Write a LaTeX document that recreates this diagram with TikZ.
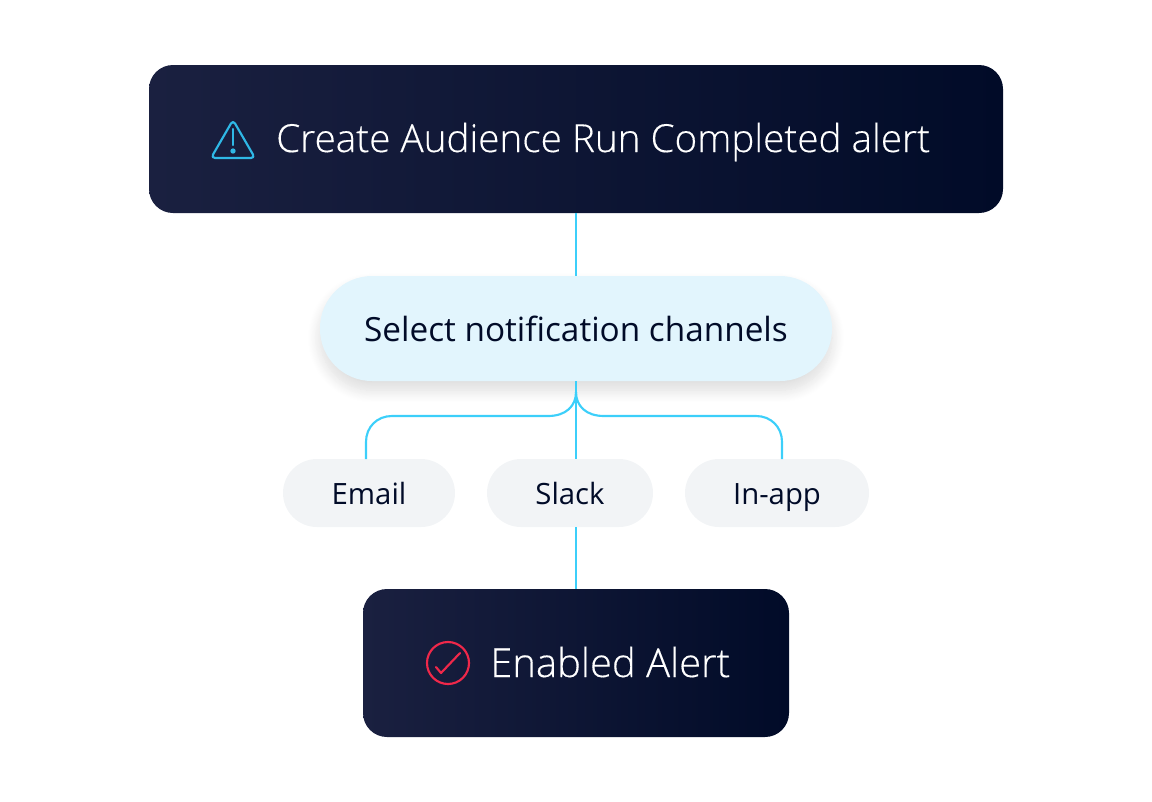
\documentclass[tikz,border=0pt]{standalone}
\usepackage{fontspec}
\setmainfont{Open Sans}
\newfontfamily\lightfont[UprightFont=* Light, UprightFeatures={FakeBold=0.3}]{Open Sans}
\usetikzlibrary{positioning, shadows.blur}
\definecolor{alertnavy}{HTML}{1A2040}
\definecolor{alertink}{HTML}{010B28}
\definecolor{wirecyan}{HTML}{3CCFFA}
\definecolor{warncyan}{HTML}{2FB8E6}
\definecolor{checkred}{HTML}{F0284A}
\definecolor{pillblue}{HTML}{E2F5FD}
\definecolor{pillgrey}{HTML}{F2F4F6}

\begin{document}
\begin{tikzpicture}[x=0.75pt, y=-0.75pt,
        darkbox/.style={rectangle, rounded corners=18pt, minimum height=111pt, inner sep=0pt, left color=alertnavy, right color=alertink},
        darklabel/.style={text=white, font=\lightfont\fontsize{29}{32}\selectfont, inner sep=0pt},
        chanbox/.style={rectangle, rounded corners=25.5pt, fill=pillgrey, minimum height=51pt, inner sep=0pt, text=alertink, text height=17pt, text depth=0pt, font=\fontsize{22}{26}\selectfont},
        wire/.style={wirecyan, line width=1.6pt},
        iconline/.style={line width=1.6pt, line cap=round, line join=round}]
      \useasboundingbox (0,0) rectangle (1152,801);

      % Boxes
      \node[darkbox, minimum width=640.5pt] (create) at (576,139) {};
      \node[rectangle, rounded corners=39pt, fill=pillblue, minimum width=384pt, minimum height=78.75pt, inner sep=0pt,
            text=alertink, text height=20pt, text depth=0pt, font=\fontsize{25}{30}\selectfont,
            blur shadow={shadow xshift=0pt, shadow yshift=-7pt, shadow blur radius=9pt, shadow blur steps=16, shadow opacity=14}] (select) at (576,328.5) {Select notification channels};
      \node[chanbox, minimum width=129pt] (email) at (369,493) {Email};
      \node[chanbox, minimum width=124.5pt] (slack) at (570,493) {Slack};
      \node[chanbox, minimum width=138pt] (inapp) at (777,493) {In-app};
      \node[darkbox, minimum width=319.5pt] (enabled) at (576,663) {};

      % Labels
      \node[darklabel, anchor=base west] (createlabel) at (276,152) {Create Audience Run Completed alert};
      \node[darklabel, anchor=base west, font=\lightfont\fontsize{30}{32}\selectfont] (enabledlabel) at (490,677) {Enabled Alert};

      % Icons
      \draw[iconline, warncyan, rounded corners=3pt] (233,120) -- (255,158) -- (211,158) -- cycle;
      \draw[iconline, warncyan] (233,129) -- (233,145);
      \fill[warncyan] (233,151) circle (2pt);
      \node[circle, draw=checkred, line width=1.6pt, minimum size=31.5pt, inner sep=0pt] (checkring) at (448,663) {};
      \draw[iconline, checkred] (436,667) -- (441,673) -- (460,653);

      % Flow
      \coordinate (fork) at (576,392);
      \coordinate (emailtop) at (366,459);
      \coordinate (inapptop) at (782,459);
      \draw[wire] (create.south -| select.north) -- (select.north);
      \draw[wire] (select.south) -- (select.south |- slack.north);
      \draw[wire] (enabled.north |- slack.south) -- (enabled.north);
      \draw[wire] (emailtop) -- (366,442) .. controls (366,427) and (377,416) .. (392,416) -- (548,416) .. controls (566,416) and (576,406) .. (fork);
      \draw[wire] (inapptop) -- (782,442) .. controls (782,427) and (771,416) .. (756,416) -- (604,416) .. controls (586,416) and (576,406) .. (fork);
\end{tikzpicture}
\end{document}
